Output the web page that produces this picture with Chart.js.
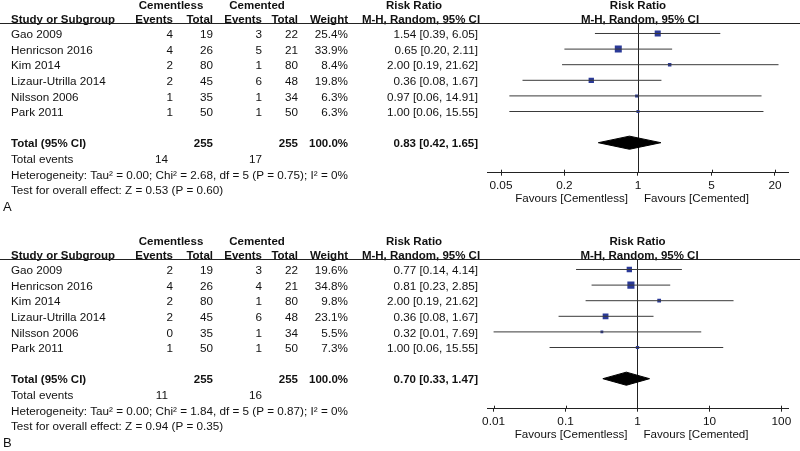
<!DOCTYPE html>
<html>
<head>
<meta charset="utf-8">
<script src="https://cdn.jsdelivr.net/npm/chart.js@4.4.1/dist/chart.umd.min.js"></script>
<style>
  body { margin: 0; background: #fff; }
  #wrap { position: relative; width: 800px; height: 451px; overflow: hidden; background: #fff; }
  canvas { position: absolute; left: 0; }
  #chartA { top: 0; }
  #chartB { top: 236px; }
</style>
</head>
<body>
<div id="wrap">
  <canvas id="chartA" width="800" height="215"></canvas>
  <canvas id="chartB" width="800" height="215"></canvas>
</div>
<script>
var FONT = '"Liberation Sans", Arial, sans-serif';

var studies = ['Gao 2009', 'Henricson 2016', 'Kim 2014', 'Lizaur-Utrilla 2014', 'Nilsson 2006', 'Park 2011'];
var totalCementless = [19, 26, 80, 45, 35, 50];
var totalCemented = [22, 21, 80, 48, 34, 50];

// panel A
var eventsCementlessA = [4, 4, 2, 2, 1, 1];
var eventsCementedA = [3, 5, 1, 6, 1, 1];
var weightA = [25.4, 33.9, 8.4, 19.8, 6.3, 6.3];
var rrA = [1.54, 0.65, 2.00, 0.36, 0.97, 1.00];
var lowA = [0.39, 0.20, 0.19, 0.08, 0.06, 0.06];
var highA = [6.05, 2.11, 21.62, 1.67, 14.91, 15.55];
var pooledA = [0.83, 0.42, 1.65];   // estimate, lower, upper
var sumTotalsA = [255, 255];
var sumEventsA = [14, 17];
var hetA = 'Heterogeneity: Tau\u00b2 = 0.00; Chi\u00b2 = 2.68, df = 5 (P = 0.75); I\u00b2 = 0%';
var testA = 'Test for overall effect: Z = 0.53 (P = 0.60)';
var ticksA = [0.05, 0.2, 1, 5, 20];
var tickLabelsA = ['0.05', '0.2', '1', '5', '20'];

// panel B
var eventsCementlessB = [2, 4, 2, 2, 0, 1];
var eventsCementedB = [3, 4, 1, 6, 1, 1];
var weightB = [19.6, 34.8, 9.8, 23.1, 5.5, 7.3];
var rrB = [0.77, 0.81, 2.00, 0.36, 0.32, 1.00];
var lowB = [0.14, 0.23, 0.19, 0.08, 0.01, 0.06];
var highB = [4.14, 2.85, 21.62, 1.67, 7.69, 15.55];
var pooledB = [0.70, 0.33, 1.47];
var sumTotalsB = [255, 255];
var sumEventsB = [11, 16];
var hetB = 'Heterogeneity: Tau\u00b2 = 0.00; Chi\u00b2 = 1.84, df = 5 (P = 0.87); I\u00b2 = 0%';
var testB = 'Test for overall effect: Z = 0.94 (P = 0.35)';
var ticksB = [0.01, 0.1, 1, 10, 100];
var tickLabelsB = ['0.01', '0.1', '1', '10', '100'];

function ciText(e, l, h) {
  return e.toFixed(2) + ' [' + l.toFixed(2) + ', ' + h.toFixed(2) + ']';
}

/* table text, header line, line of no effect and the little ticks above the axis */
function tablePlugin(p) {
  return {
    id: 'forestTable',
    beforeDatasetsDraw: function (chart) {
      var c = chart.ctx, area = chart.chartArea;
      var xOne = Math.round(chart.scales.x.getPixelForValue(1)) + 0.5;
      c.save();
      c.strokeStyle = '#222';
      c.lineWidth = 1;
      c.beginPath();
      c.moveTo(xOne, area.top);
      c.lineTo(xOne, area.bottom);
      c.stroke();
      c.restore();
    },
    afterDraw: function (chart) {
      var c = chart.ctx, x = chart.scales.x, y = chart.scales.y, area = chart.chartArea;
      var xOne = x.getPixelForValue(1);

      function rowY(r) { return y.getPixelForValue(r) + 1.5; }
      function put(s, px, py, align, bold, size) {
        c.font = (bold ? 'bold ' : '') + (size || (bold ? 11.5 : 11.7)) + 'px ' + FONT;
        c.textAlign = align;
        c.textBaseline = 'middle';
        c.fillStyle = '#111';
        c.fillText(s, px, py);
      }

      c.save();

      // header
      var h1 = area.top - 18, h2 = area.top - 3.5;
      put('Cementless', 171, h1, 'center', true);
      put('Cemented', 257, h1, 'center', true);
      put('Risk Ratio', 414, h1, 'center', true);
      put('Risk Ratio', xOne, h1, 'center', true);
      put('Study or Subgroup', 11, h2, 'left', true);
      put('Events', 173, h2, 'right', true);
      put('Total', 213, h2, 'right', true);
      put('Events', 262, h2, 'right', true);
      put('Total', 298, h2, 'right', true);
      put('Weight', 348, h2, 'right', true);
      put('M-H, Random, 95% CI', 421, h2, 'center', true);
      put('M-H, Random, 95% CI', xOne + 2, h2, 'center', true);

      c.strokeStyle = '#222';
      c.lineWidth = 1;
      c.beginPath();
      var ly = Math.floor(area.top) + 0.5;
      c.moveTo(0, ly);
      c.lineTo(800, ly);
      c.stroke();

      // studies
      for (var i = 0; i < studies.length; i++) {
        var ry = rowY(i);
        put(studies[i], 11, ry, 'left');
        put(String(p.ev1[i]), 173, ry, 'right');
        put(String(totalCementless[i]), 213, ry, 'right');
        put(String(p.ev2[i]), 262, ry, 'right');
        put(String(totalCemented[i]), 298, ry, 'right');
        put(p.weight[i].toFixed(1) + '%', 348, ry, 'right');
        put(ciText(p.rr[i], p.low[i], p.high[i]), 478, ry, 'right');
      }

      // totals
      var tr = studies.length + 1;
      put('Total (95% CI)', 11, rowY(tr), 'left', true);
      put(String(p.sumTotals[0]), 213, rowY(tr), 'right', true);
      put(String(p.sumTotals[1]), 298, rowY(tr), 'right', true);
      put('100.0%', 348, rowY(tr), 'right', true);
      put(ciText(p.pooled[0], p.pooled[1], p.pooled[2]), 478, rowY(tr), 'right', true);

      put('Total events', 11, rowY(tr + 1), 'left');
      put(String(p.sumEvents[0]), 168, rowY(tr + 1), 'right');
      put(String(p.sumEvents[1]), 262, rowY(tr + 1), 'right');
      put(p.het, 11, rowY(tr + 2), 'left');
      put(p.test, 11, rowY(tr + 3), 'left');
      put(p.letter, 3, rowY(tr + 4.05), 'left', false, 13);

      // ticks also go up a bit from the axis
      c.strokeStyle = '#222';
      c.beginPath();
      for (var k = 0; k < p.ticks.length; k++) {
        var tx = Math.round(x.getPixelForValue(p.ticks[k])) + 0.5;
        c.moveTo(tx, area.bottom - 3);
        c.lineTo(tx, area.bottom);
      }
      c.stroke();

      // favours
      var fy = area.bottom + 26.5;
      put('Favours [Cementless]', xOne - 10, fy, 'right', false, 11.6);
      put('Favours [Cemented]', xOne + 6, fy, 'left', false, 11.6);

      c.restore();
    }
  };
}

function printForest(id, p) {
  var ctx = document.getElementById(id).getContext('2d');
  var datasets = [];

  // confidence interval of each study
  for (var i = 0; i < p.rr.length; i++) {
    datasets.push({
      data: [{ x: p.low[i], y: i }, { x: p.high[i], y: i }],
      showLine: true,
      borderColor: '#3a3a3a',
      borderWidth: 1,
      pointRadius: 0
    });
  }

  // squares, area follows the weight
  datasets.push({
    data: p.rr.map(function (v, i) { return { x: v, y: i }; }),
    pointStyle: 'rect',
    pointRadius: p.weight.map(function (w) { return 0.85 * Math.sqrt(w); }),
    backgroundColor: '#2b3a98',
    pointBackgroundColor: '#2b3a98',
    pointBorderWidth: 0,
    borderWidth: 0
  });

  // pooled diamond
  var r = p.rr.length + 1;
  datasets.push({
    data: [
      { x: p.pooled[1], y: r },
      { x: p.pooled[0], y: r - 0.42 },
      { x: p.pooled[2], y: r },
      { x: p.pooled[0], y: r + 0.42 },
      { x: p.pooled[1], y: r }
    ],
    showLine: true,
    fill: 'shape',
    tension: 0,
    borderColor: '#000',
    backgroundColor: '#000',
    borderWidth: 1,
    pointRadius: 0
  });

  var chart = new Chart(ctx, {
    type: 'scatter',
    data: { datasets: datasets },
    options: {
      responsive: false,
      animation: false,
      events: [],
      layout: { padding: { left: 487, right: 12, top: 23.5, bottom: 0 } },
      plugins: {
        legend: { display: false },
        tooltip: { enabled: false }
      },
      scales: {
        x: {
          type: 'logarithmic',
          min: p.min,
          max: p.max,
          afterBuildTicks: function (s) {
            s.ticks = p.ticks.map(function (v) { return { value: v }; });
          },
          afterFit: function (s) { s.height = 42.3; },
          grid: { drawOnChartArea: false, drawTicks: true, tickLength: 3, color: '#222' },
          border: { display: true, color: '#222', width: 1 },
          ticks: {
            autoSkip: false,
            maxRotation: 0,
            padding: 3,
            color: '#111',
            font: { family: FONT, size: 11.8 },
            callback: function (v, i) { return p.tickLabels[i]; }
          }
        },
        y: { type: 'linear', display: false, reverse: true, min: -0.641, max: 8.923 }
      }
    },
    plugins: [tablePlugin(p)]
  });
}

function init() {
  printForest('chartA', {
    letter: 'A', ev1: eventsCementlessA, ev2: eventsCementedA, weight: weightA,
    rr: rrA, low: lowA, high: highA, pooled: pooledA, sumTotals: sumTotalsA,
    sumEvents: sumEventsA, het: hetA, test: testA,
    ticks: ticksA, tickLabels: tickLabelsA, min: 0.0368, max: 26.6
  });
  printForest('chartB', {
    letter: 'B', ev1: eventsCementlessB, ev2: eventsCementedB, weight: weightB,
    rr: rrB, low: lowB, high: highB, pooled: pooledB, sumTotals: sumTotalsB,
    sumEvents: sumEventsB, het: hetB, test: testB,
    ticks: ticksB, tickLabels: tickLabelsB, min: 0.0081, max: 123.5
  });
}

init();
</script>
</body>
</html>
